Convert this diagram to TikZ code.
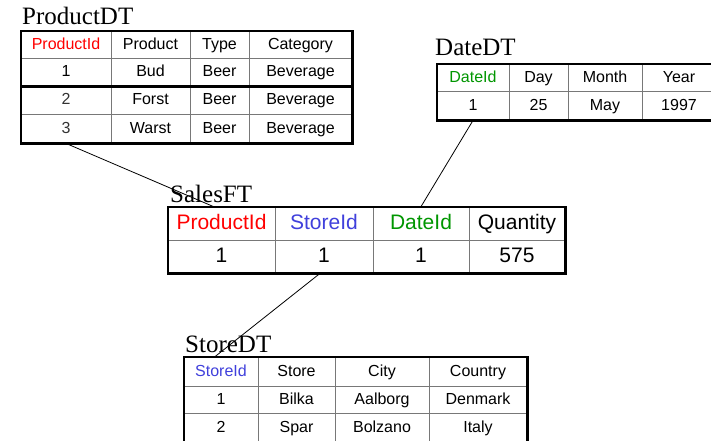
\documentclass[tikz,border=0pt]{standalone}
\usepackage{fontspec}
\setmainfont{Liberation Serif}
\newfontfamily\cellfont{Liberation Sans}
\usetikzlibrary{calc}

\definecolor{keyred}{RGB}{255,0,0}
\definecolor{keyblue}{RGB}{64,64,220}
\definecolor{keygreen}{RGB}{0,150,0}
\definecolor{gridgray}{RGB}{120,120,120}

% one table cell: [style]{name}{x1}{x2}{y1}{y2}{text}
\newcommand\tabcell[7][]{%
  \node[cellbox,#1,minimum width={(#4-#3)*1pt},minimum height={(#6-#5)*1pt}]
    (#2) at ({(#3+#4)/2},{(#5+#6)/2}) {#7};}

\begin{document}
\begin{tikzpicture}[x=1pt,y=-1pt,
  cellbox/.style={draw=gridgray,line width=0.8pt,rectangle,inner sep=0pt,
    text height=11.5pt,text depth=2.5pt,
    font=\cellfont\fontsize{16}{16}\selectfont},
  factcell/.style={text height=15pt,text depth=3.5pt,
    font=\cellfont\fontsize{21}{21}\selectfont},
  frame/.style={draw=black,line width=2.2pt},
  title/.style={anchor=base west,inner sep=0pt,font=\fontsize{25}{25}\selectfont},
  link/.style={draw=black,line width=0.8pt}]

\clip (0,0) rectangle (711,440);
\fill[white] (0,0) rectangle (711,440);

% ---- ProductDT ----
\node[title] (tProd) at (22,24) {ProductDT};
\tabcell[text=keyred]{p11}{21}{111}{31}{58}{ProductId}
\tabcell{p12}{111}{190}{31}{58}{Product}
\tabcell{p13}{190}{249}{31}{58}{Type}
\tabcell{p14}{249}{352}{31}{58}{Category}
\tabcell{p21}{21}{111}{58}{86}{1}
\tabcell{p22}{111}{190}{58}{86}{Bud}
\tabcell{p23}{190}{249}{58}{86}{Beer}
\tabcell{p24}{249}{352}{58}{86}{Beverage}
\tabcell[text=black!80]{p31}{21}{111}{86}{114}{2}
\tabcell{p32}{111}{190}{86}{114}{Forst}
\tabcell{p33}{190}{249}{86}{114}{Beer}
\tabcell{p34}{249}{352}{86}{114}{Beverage}
\tabcell[text=black!80]{p41}{21}{111}{114}{143}{3}
\tabcell{p42}{111}{190}{114}{143}{Warst}
\tabcell{p43}{190}{249}{114}{143}{Beer}
\tabcell{p44}{249}{352}{114}{143}{Beverage}
\draw[frame] (p21.south west) -- (p24.south east);
\draw[frame] (p11.north west) rectangle (p44.south east);

% ---- DateDT ----
\node[title] (tDate) at (435,55) {DateDT};
\tabcell[text=keygreen]{d11}{437}{509}{64}{91}{DateId}
\tabcell{d12}{509}{568}{64}{91}{Day}
\tabcell{d13}{568}{642}{64}{91}{Month}
\tabcell{d14}{642}{716}{64}{91}{Year}
\tabcell{d21}{437}{509}{91}{120}{1}
\tabcell{d22}{509}{568}{91}{120}{25}
\tabcell{d23}{568}{642}{91}{120}{May}
\tabcell{d24}{642}{716}{91}{120}{1997}
\draw[frame] (d11.north west) rectangle (d24.south east);

% ---- SalesFT ----
\node[title] (tSales) at (170,202) {SalesFT};
\tabcell[factcell,text=keyred]{s11}{168}{275}{207}{240}{ProductId}
\tabcell[factcell,text=keyblue]{s12}{275}{373}{207}{240}{StoreId}
\tabcell[factcell,text=keygreen]{s13}{373}{469}{207}{240}{DateId}
\tabcell[factcell]{s14}{469}{565}{207}{240}{Quantity}
\tabcell[factcell]{s21}{168}{275}{240}{273}{1}
\tabcell[factcell]{s22}{275}{373}{240}{273}{1}
\tabcell[factcell]{s23}{373}{469}{240}{273}{1}
\tabcell[factcell]{s24}{469}{565}{240}{273}{575}
\draw[frame] (s11.north west) rectangle (s24.south east);

% ---- StoreDT ----
\node[title] (tStore) at (185,352) {StoreDT};
\tabcell[text=keyblue]{t11}{184}{258}{357}{386}{StoreId}
\tabcell{t12}{258}{335}{357}{386}{Store}
\tabcell{t13}{335}{429}{357}{386}{City}
\tabcell{t14}{429}{527}{357}{386}{Country}
\tabcell{t21}{184}{258}{386}{413}{1}
\tabcell{t22}{258}{335}{386}{413}{Bilka}
\tabcell{t23}{335}{429}{386}{413}{Aalborg}
\tabcell{t24}{429}{527}{386}{413}{Denmark}
\tabcell{t31}{184}{258}{413}{443}{2}
\tabcell{t32}{258}{335}{413}{443}{Spar}
\tabcell{t33}{335}{429}{413}{443}{Bolzano}
\tabcell{t34}{429}{527}{413}{443}{Italy}
\draw[frame] (t11.north west) rectangle (t34.south east);

% ---- key links between the tables ----
\coordinate (prodEnd) at ($(s11.north)+(-8,0)$);
\coordinate (storeStart) at ($(s22.south)+(-4,0)$);
\coordinate (storeEnd) at ($(t11.north)+(-6,0)$);
\draw[link] (p41.south) -- (prodEnd);
\draw[link] (d21.south) -- (s13.north);
\draw[link] (storeStart) -- (storeEnd);
\end{tikzpicture}
\end{document}
